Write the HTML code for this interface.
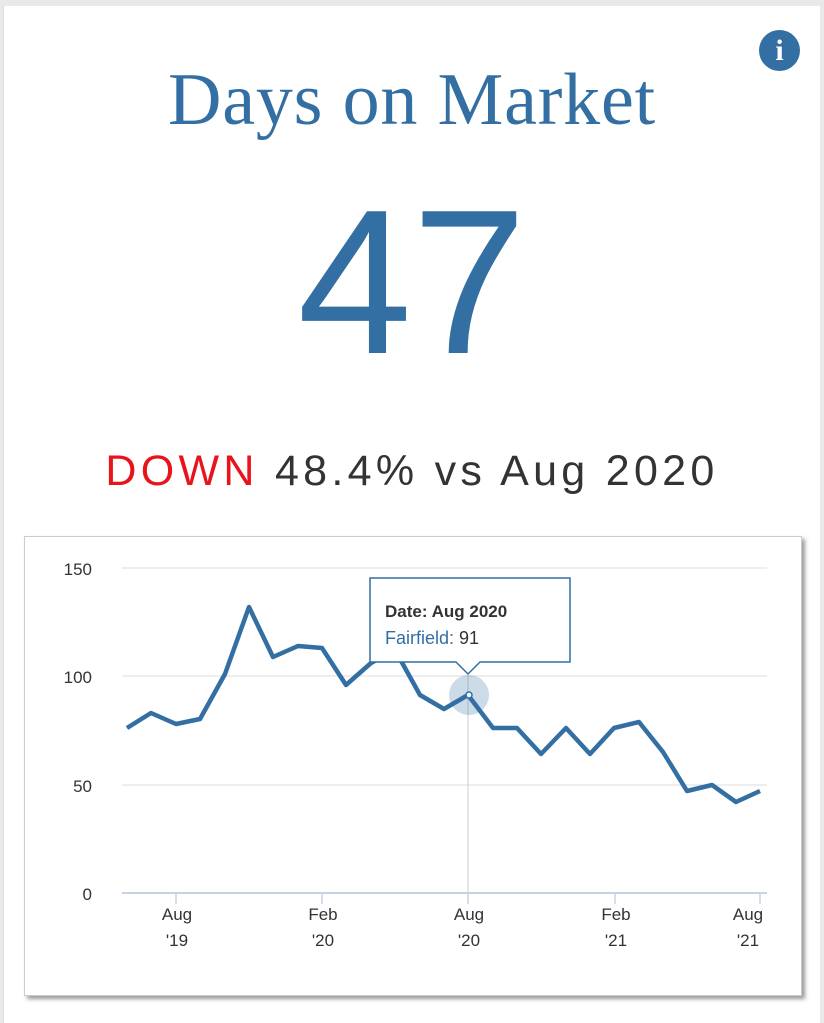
<!DOCTYPE html>
<html><head><style>
body{margin:0;width:824px;height:1023px;background:#e9e9e9;overflow:hidden;font-family:"Liberation Sans",sans-serif}
.card{position:absolute;left:3px;top:6px;width:816px;height:1017px;background:#fff;border-left:1px solid #ddd}
.title{position:absolute;left:0;width:824px;top:58px;text-align:center;font-family:"Liberation Serif",serif;font-size:74px;letter-spacing:0.8px;color:#336fa2}
.big{position:absolute;left:0;width:824px;top:167px;text-align:center;font-size:206px;color:#336fa2;line-height:230px}
.chg{position:absolute;left:0;width:824px;top:447px;text-align:center;font-size:43px;color:#333;letter-spacing:4.3px}
.info{position:absolute;left:759px;top:30px;width:41px;height:41px;border-radius:50%;background:#336fa2;color:#fff;font:bold 30px "Liberation Serif",serif;text-align:center;line-height:41px}
.box{position:absolute;left:24px;top:536px;width:776px;height:458px;background:#fff;border:1px solid #ccc;box-shadow:3px 3px 4px #999}
</style></head><body>
<div class="card"></div>
<div class="info">i</div>
<div class="title">Days on Market</div>
<div class="big">47</div>
<div class="chg"><span style="color:#e8141c">DOWN</span> 48.4% vs Aug 2020</div>
<div class="box"></div>
<svg style="position:absolute;left:0;top:0" width="824" height="1023">
<g stroke="#ddd" stroke-width="1">
<line x1="122" y1="568" x2="767" y2="568"/><line x1="122" y1="676" x2="767" y2="676"/><line x1="122" y1="785" x2="767" y2="785"/>
</g>
<line x1="122" y1="893" x2="767" y2="893" stroke="#c5d3e8" stroke-width="2"/>
<g stroke="#c5d3e8" stroke-width="1.5"><line x1="176" y1="893" x2="176" y2="904"/><line x1="322" y1="893" x2="322" y2="904"/><line x1="468" y1="893" x2="468" y2="904"/><line x1="615" y1="893" x2="615" y2="904"/><line x1="760" y1="893" x2="760" y2="904"/></g>
<g font-size="17" fill="#333" text-anchor="end"><text x="92" y="575">150</text><text x="92" y="683">100</text><text x="92" y="792">50</text><text x="92" y="900">0</text></g>
<g font-size="17" fill="#333" text-anchor="middle">
<text x="177" y="920">Aug</text><text x="177" y="946">'19</text>
<text x="323" y="920">Feb</text><text x="323" y="946">'20</text>
<text x="469" y="920">Aug</text><text x="469" y="946">'20</text>
<text x="616" y="920">Feb</text><text x="616" y="946">'21</text>
<text x="748" y="920">Aug</text><text x="748" y="946">'21</text></g>
<line x1="468" y1="588" x2="468" y2="893" stroke="#ccc"/>
<circle cx="469" cy="695" r="20" fill="#336fa2" opacity="0.25"/>
<polyline fill="none" stroke="#336fa2" stroke-width="4.5" stroke-linejoin="round" points="127,728 151,713 176,724 200,719 225,674 249,607 273,657 298,646 322,648 346,685 371,663 395,650 420,695 444,709 468,695 493,728 517,728 541,754 566,728 590,754 614,728 639,722 663,752 687,791 712,785 736,802 760,791"/>
<circle cx="469" cy="695" r="3" fill="#fff" stroke="#336fa2" stroke-width="1.5"/>
<path d="M370,578 H570 V662 H480 L468,674 L456,662 H370 Z" fill="#fff" stroke="#336fa2" stroke-width="1.5"/>
<text x="385" y="617" font-size="17" font-weight="bold" fill="#333">Date: Aug 2020</text>
<text x="385" y="644" font-size="18" fill="#336fa2">Fairfield: <tspan fill="#333">91</tspan></text>
</svg>
</body></html>
